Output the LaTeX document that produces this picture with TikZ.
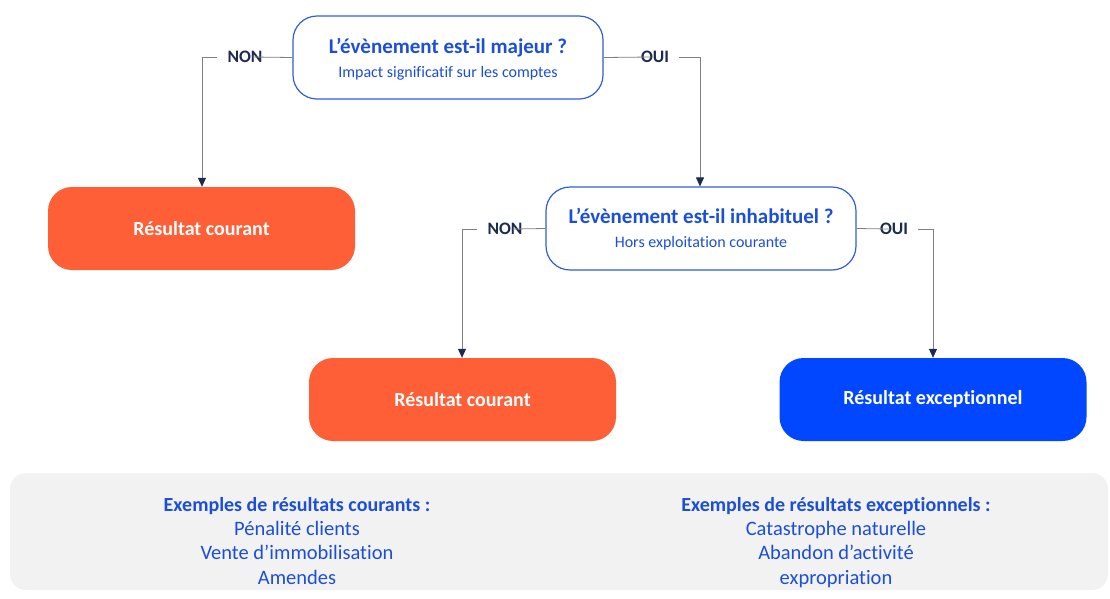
\documentclass[tikz,border=0pt]{standalone}
\usepackage{fontspec}
\setmainfont{Carlito}[Ligatures=NoCommon]
\usetikzlibrary{arrows.meta}
\definecolor{qblue}{HTML}{2F5FD8}
\definecolor{tblue}{HTML}{1C4FD8}
\definecolor{navy}{HTML}{1B2A4E}
\definecolor{orng}{HTML}{FF5F36}
\definecolor{rblue}{HTML}{0047FF}
\definecolor{panel}{HTML}{F2F2F2}
\definecolor{lgrey}{HTML}{808080}
\tikzset{
  x=1pt, y=-1pt,
  fixh/.style={text height=1.04em, text depth=0pt},
  question/.style={draw=qblue, line width=1.2pt, fill=white, rounded corners=24pt,
    minimum width=310pt, minimum height=83pt, align=center, inner sep=0pt},
  result/.style={rounded corners=24pt, minimum width=307pt, minimum height=83pt,
    text=white, font=\fontsize{20}{24}\selectfont\bfseries, inner sep=0pt},
  qtitle/.style={fixh, font=\fontsize{21}{25}\selectfont\bfseries, text=tblue},
  qsub/.style={fixh, font=\fontsize{16}{19}\selectfont, text=tblue},
  yesno/.style={fixh, font=\fontsize{17.5}{20}\selectfont\bfseries, text=navy, inner sep=0pt},
  conn/.style={draw=lgrey, line width=0.8pt},
  arr/.style={conn, -{Triangle[length=9pt, width=8pt, fill=navy, color=navy]}},
  extitle/.style={fixh, font=\fontsize{20}{24}\selectfont\bfseries, text=tblue},
  exitem/.style={fixh, font=\fontsize{20.5}{24}\selectfont, text=tblue},
}
\begin{document}
\begin{tikzpicture}
\useasboundingbox (0,0) rectangle (1110,598);
\fill[panel, rounded corners=16pt] (10,473) rectangle (1108,590);

\node[question] (q1) at (448,57.5) {};
\node[qtitle] (q1t) at (448,48) {L’évènement est-il majeur ?};
\node[qsub] (q1s) at (448,72) {Impact significatif sur les comptes};

\node[result, fill=orng] (r1) at (201.5,228.5) {Résultat courant};

\node[question] (q2) at (701,228.5) {};
\node[qtitle] (q2t) at (701,218) {L’évènement est-il inhabituel ?};
\node[qsub] (q2s) at (701,242) {Hors exploitation courante};

\node[result, fill=orng] (r2) at (462.5,399.5) {Résultat courant};
\node[result, fill=rblue] (r3) at (933,399.5) {Résultat exceptionnel};

\node[yesno] (n1) at (245,57) {NON};
\node[yesno] (o1) at (655,57) {OUI};
\node[yesno] (n2) at (505,229) {NON};
\node[yesno] (o2) at (894,229) {OUI};

\coordinate (c1) at (202,57);
\coordinate (c2) at (700,57);
\coordinate (c3) at (462,229);
\coordinate (c4) at (933,229);

\draw[conn] (q1.west) -- ([xshift=-10pt]n1.east);
\draw[arr] ([xshift=-10pt]n1.west) -- (c1) -- (c1 |- r1.north);
\draw[conn] (q1.east) -- ([xshift=10pt]o1.west);
\draw[arr] ([xshift=10pt]o1.east) -- (c2) -- (c2 |- q2.north);

\draw[conn] (q2.west) -- ([xshift=-10pt]n2.east);
\draw[arr] ([xshift=-10pt]n2.west) -- (c3) -- (c3 |- r2.north);
\draw[conn] (q2.east) -- ([xshift=10pt]o2.west);
\draw[arr] ([xshift=10pt]o2.east) -- (c4) -- (c4 |- r3.north);

\node[extitle] (e1) at (297,506) {Exemples de résultats courants :};
\node[exitem] (e1a) at (297,530) {Pénalité clients};
\node[exitem] (e1b) at (297,554) {Vente d’immobilisation};
\node[exitem] (e1c) at (297,579) {Amendes};

\node[extitle] (e2) at (836,506) {Exemples de résultats exceptionnels :};
\node[exitem] (e2a) at (836,530) {Catastrophe naturelle};
\node[exitem] (e2b) at (836,554) {Abandon d’activité};
\node[exitem] (e2c) at (836,579) {expropriation};
\end{tikzpicture}
\end{document}
